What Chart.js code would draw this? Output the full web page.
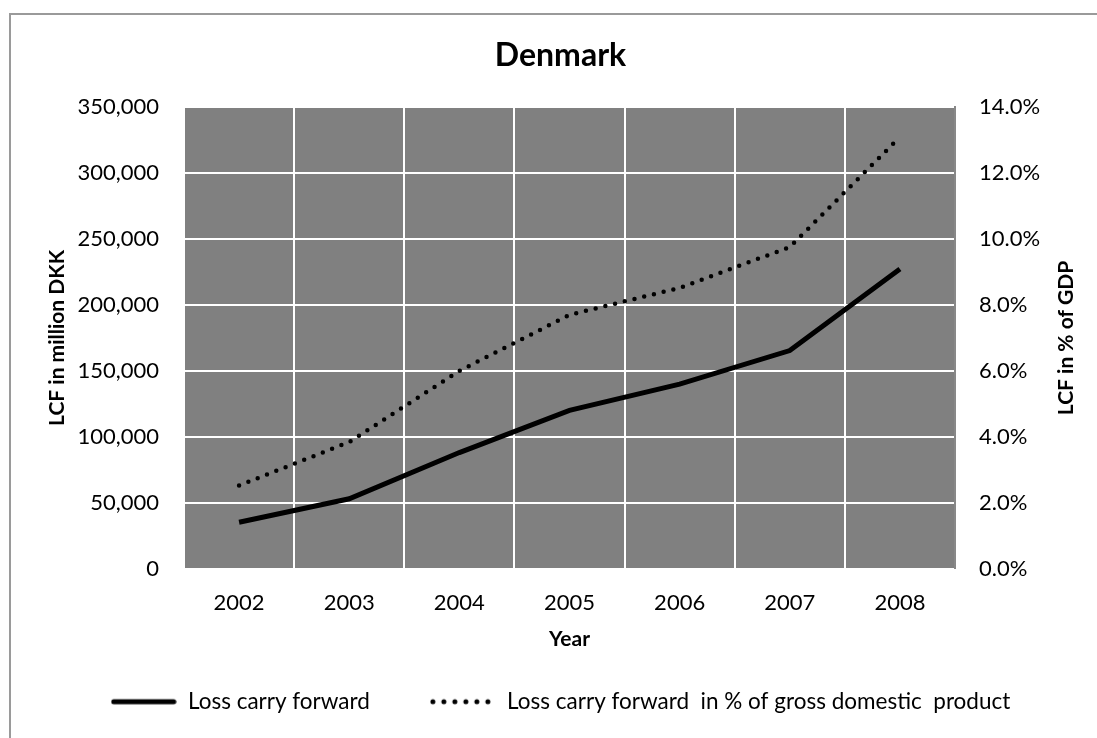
<!DOCTYPE html>
<html>
<head>
<meta charset="utf-8">
<script src="https://cdn.jsdelivr.net/npm/chart.js@4"></script>
<style>
  html, body { margin: 0; padding: 0; background: #fff; }
  #wrap { width: 1097px; height: 738px; }
</style>
</head>
<body>
<div id="wrap"><canvas id="chart"></canvas></div>
<script>
const years = ['2002', '2003', '2004', '2005', '2006', '2007', '2008'];
// loss carry forward, million DKK (left axis)
const lcfMillionDKK = [35100, 52900, 88000, 120000, 140000, 165400, 227400];
// loss carry forward in % of GDP (right axis)
const lcfPctGDP = [2.52, 3.84, 6.0, 7.7, 8.52, 9.76, 13.1];

const FONT = 'Lato';

// legend samples: the built-in line point style ignores dashes, so draw them once
function lineSample(dash, width) {
  const c = document.createElement('canvas');
  c.width = 66;
  c.height = 10;
  const g = c.getContext('2d');
  g.strokeStyle = '#000';
  g.lineWidth = width;
  g.lineCap = 'round';
  g.setLineDash(dash);
  g.beginPath();
  g.moveTo(3, 5);
  g.lineTo(63, 5);
  g.stroke();
  return c;
}
const legendSamples = [lineSample([], 5), lineSample([0, 11], 5)];

// grey plot background + outer frame + right axis title
const decor = {
  id: 'decor',
  beforeDraw(chart) {
    const { ctx, chartArea: a } = chart;
    ctx.save();
    ctx.fillStyle = '#808080';
    ctx.fillRect(a.left, a.top, a.right - a.left, a.bottom - a.top);
    ctx.strokeStyle = '#9a9a9a';
    ctx.lineWidth = 2;
    ctx.beginPath();
    ctx.moveTo(10, 738);
    ctx.lineTo(10, 14);
    ctx.lineTo(1097, 14);
    ctx.stroke();
    ctx.restore();
  },
  afterDraw(chart) {
    const { ctx, chartArea: a } = chart;
    ctx.save();
    ctx.translate(1066, (a.top + a.bottom) / 2);
    ctx.rotate(-Math.PI / 2);
    ctx.font = 'bold 21px ' + FONT;
    ctx.fillStyle = '#000';
    ctx.textAlign = 'center';
    ctx.textBaseline = 'middle';
    ctx.fillText('LCF in % of GDP', 0, 0);
    ctx.restore();
  }
};

new Chart(document.getElementById('chart'), {
  type: 'line',
  data: {
    labels: years,
    datasets: [
      {
        label: 'Loss carry forward',
        data: lcfMillionDKK,
        yAxisID: 'y',
        borderColor: '#000',
        backgroundColor: '#000',
        borderWidth: 5,
        pointRadius: 0,
        tension: 0
      },
      {
        label: 'Loss carry forward  in % of gross domestic  product',
        data: lcfPctGDP,
        yAxisID: 'y2',
        borderColor: '#000',
        backgroundColor: '#000',
        borderWidth: 4.5,
        borderDash: [0, 10],
        borderCapStyle: 'round',
        pointRadius: 0,
        tension: 0
      }
    ]
  },
  options: {
    responsive: true,
    maintainAspectRatio: false,
    animation: false,
    layout: { padding: { top: 0, left: 24, right: 0, bottom: 15 } },
    plugins: {
      title: {
        display: true,
        text: 'Denmark',
        color: '#000',
        font: { family: FONT, size: 32, weight: 'bold' },
        padding: { top: 36, bottom: 33 }
      },
      legend: {
        position: 'bottom',
        labels: {
          usePointStyle: true,
          pointStyleWidth: 66,
          padding: 60,
          color: '#000',
          font: { family: FONT, size: 22.5 },
          generateLabels(chart) {
            const items = Chart.defaults.plugins.legend.labels.generateLabels(chart);
            items.forEach((it, i) => { it.pointStyle = legendSamples[i]; });
            return items;
          }
        }
      },
      tooltip: { enabled: false }
    },
    scales: {
      x: {
        offset: true,
        grid: { offset: true, color: '#fff', lineWidth: 2, drawTicks: false },
        border: { display: false },
        ticks: { color: '#000', padding: 21, font: { family: FONT, size: 22 } },
        title: {
          display: true,
          text: 'Year',
          color: '#000',
          font: { family: FONT, size: 21, weight: 'bold' },
          padding: { top: 0, bottom: -21 }
        },
        afterFit(scale) { scale.height = 62; }
      },
      y: {
        position: 'left',
        min: 0,
        max: 350000,
        grid: { color: '#fff', lineWidth: 2, drawTicks: false },
        border: { display: false },
        ticks: {
          stepSize: 50000,
          padding: 25,
          color: '#000',
          font: { family: FONT, size: 22 },
          callback: v => v.toLocaleString('en-US')
        },
        title: {
          display: true,
          text: 'LCF in million DKK',
          color: '#000',
          font: { family: FONT, size: 21, weight: 'bold' },
          padding: { top: 21, bottom: 0 }
        },
        afterFit(scale) { scale.width = 160; }
      },
      y2: {
        position: 'right',
        min: 0,
        max: 14,
        grid: { display: false, drawTicks: false },
        border: { display: true, color: '#888', width: 2 },
        ticks: {
          stepSize: 2,
          padding: 24,
          color: '#000',
          font: { family: FONT, size: 22 },
          callback: v => v.toFixed(1) + '%'
        },
        afterFit(scale) { scale.width = 142; }
      }
    }
  },
  plugins: [decor]
});
</script>
</body>
</html>
